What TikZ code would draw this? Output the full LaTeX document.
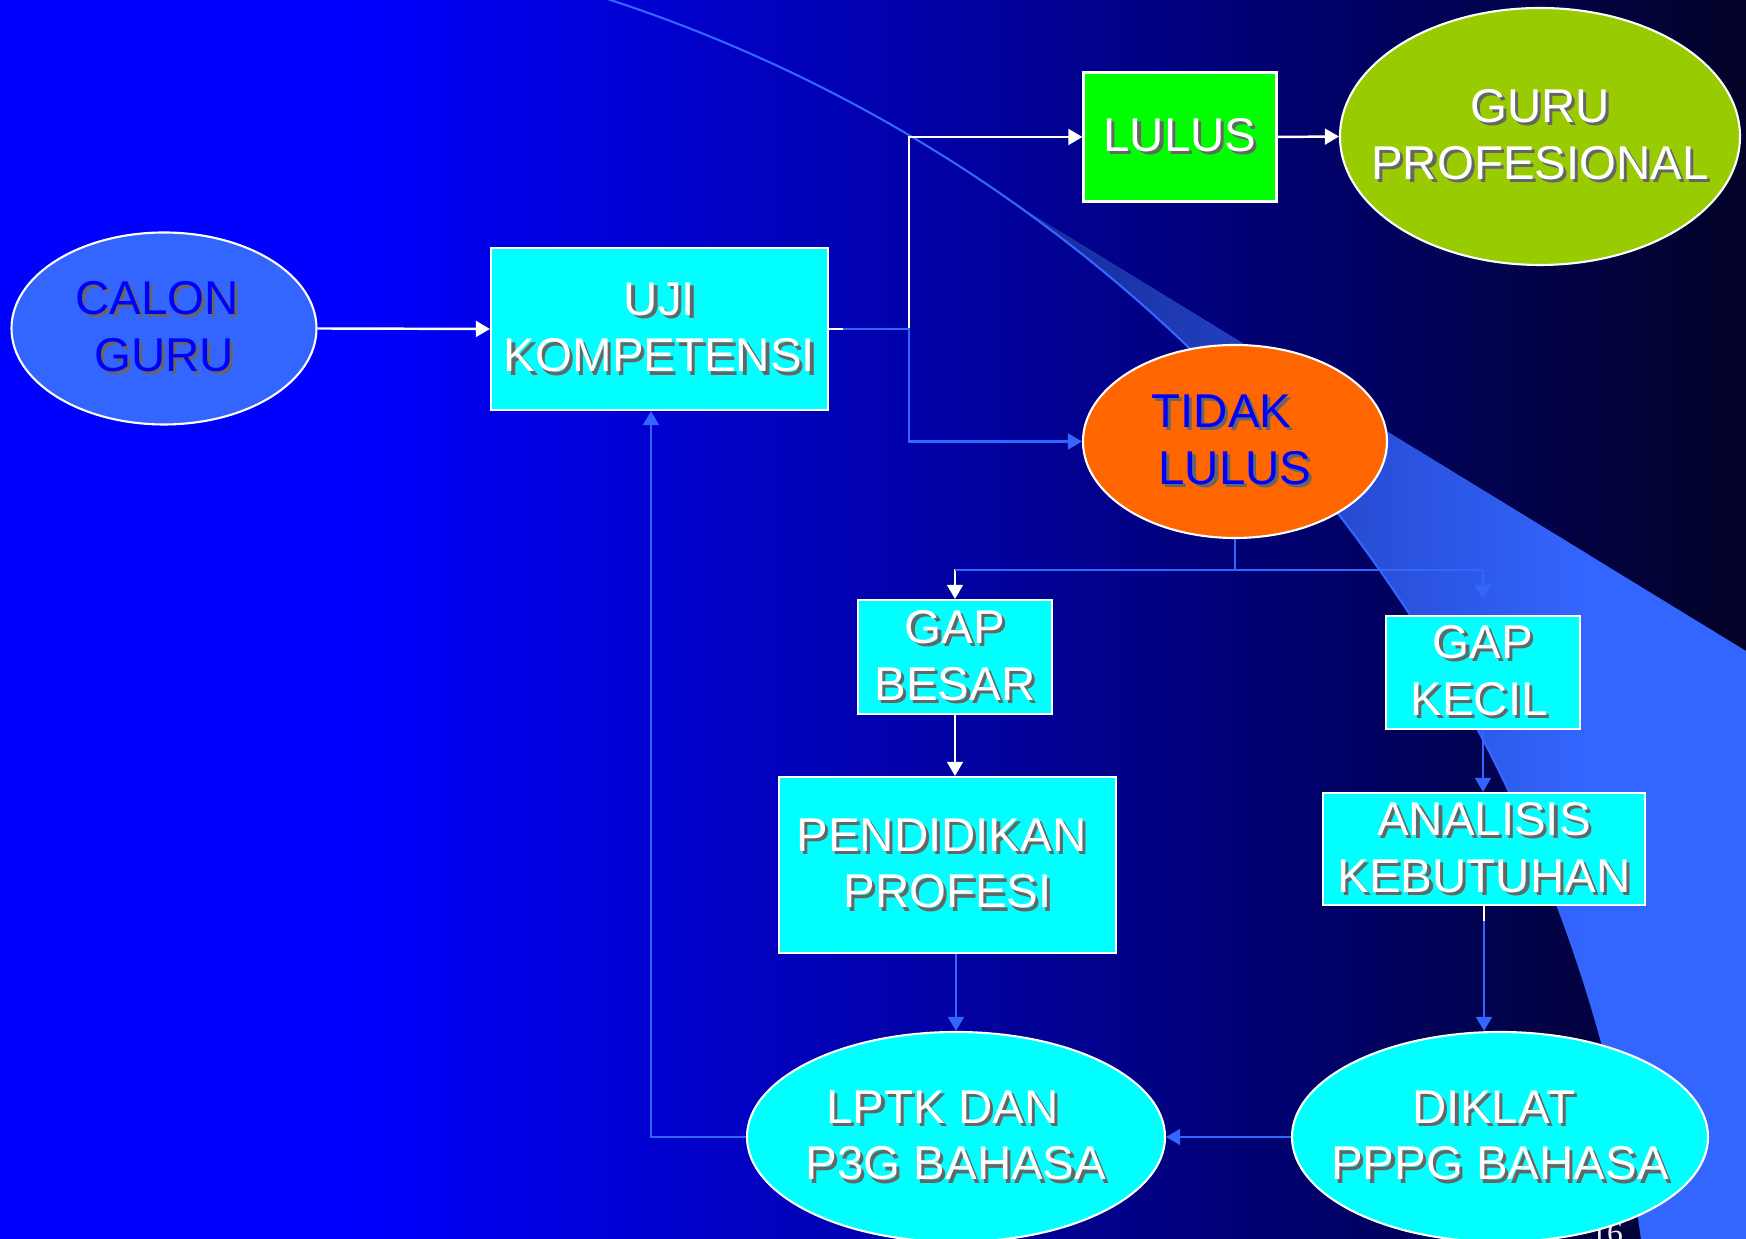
\documentclass[tikz,border=0pt]{standalone}
\usepackage{fontspec}
\setmainfont{Liberation Sans}
\newfontfamily\pagefont{Liberation Serif}
\usetikzlibrary{shapes.geometric,arrows.meta}

\definecolor{bgBlue}{RGB}{0,0,255}
\definecolor{bgMid}{RGB}{0,0,165}
\definecolor{bgDark}{RGB}{2,2,40}
\definecolor{wedgeBlue}{HTML}{3366FF}
\definecolor{wedgeDark}{RGB}{22,40,150}
\definecolor{aquaFill}{HTML}{00FFFF}
\definecolor{limeFill}{HTML}{00FF00}
\definecolor{oliveFill}{HTML}{99CC00}
\definecolor{orangeFill}{HTML}{FF6600}
\definecolor{calonFill}{HTML}{3366FF}
\definecolor{textBlue}{HTML}{0000FF}

% text with a small drop shadow, one line at a time (optional: room kept on the right)
\newcommand{\shtext}[2][0pt]{\makebox[0pt]{\raisebox{-0.9pt}{\hspace*{1.8pt}\color{black!60}#2\hspace*{#1}}}\makebox[0pt]{#2\hspace*{#1}}}

\tikzset{
  label font/.style={font=\fontsize{13.5}{16.2}\selectfont, align=center, inner sep=0pt},
  box/.style={label font, rectangle, draw=white, line width=0.6pt, fill=aquaFill, text=white},
  oval/.style={label font, ellipse, draw=white, line width=0.6pt, fill=aquaFill, text=white},
  wline/.style={draw=white, line width=0.7pt, -{Triangle[length=4pt,width=4.5pt]}},
  bline/.style={draw=wedgeBlue, line width=0.7pt, -{Triangle[length=4pt,width=4.5pt]}}
}

\begin{document}
\begin{tikzpicture}

    \useasboundingbox (0,0) rectangle (17.46,12.39);

    % Background
    \fill[bgBlue] (0,0) rectangle (3.5,12.39);
    \shade[left color=bgBlue, middle color=bgMid, right color=bgDark] (3.5,0) rectangle (17.46,12.39);

    %% Light wedge
    \begin{scope}
        \clip (16.42,0) arc[start angle=7.73, end angle=54.6, radius=15.19] -- (17.46,5.88) -- (17.46,0) -- cycle;
        \fill[wedgeBlue] (10,0) rectangle (17.46,12.39);
        \shade[left color=wedgeDark, right color=wedgeBlue] (10.1,0) rectangle (15.9,12.39);
    \end{scope}

    %% Arc
    \draw[wedgeBlue, line width=0.6pt] (1.368,-2.043) ++(75:15.19) arc[start angle=75, end angle=5, radius=15.19];

    % Nodes
    \node[oval, fill=calonFill, text=textBlue, minimum width=3.05cm, minimum height=1.92cm] (calon) at (1.64,9.105) {\shtext[0.14cm]{CALON}\\\shtext{GURU}};
    \node[box, minimum width=3.37cm, minimum height=1.62cm] (uji) at (6.595,9.10) {\shtext{UJI}\\\shtext{KOMPETENSI}};
    \node[box, fill=limeFill, minimum width=1.93cm, minimum height=1.29cm] (lulus) at (11.80,11.02) {\shtext{LULUS}};
    \node[oval, fill=oliveFill, minimum width=4.0cm, minimum height=2.57cm] (guru) at (15.40,11.025) {\shtext{GURU}\\\shtext{PROFESIONAL}};
    \node[oval, fill=orangeFill, text=textBlue, minimum width=3.04cm, minimum height=1.93cm] (tidak) at (12.35,7.975) {\shtext[0.27cm]{TIDAK}\\\shtext{LULUS}};

    \node[box, minimum width=1.94cm, minimum height=1.14cm] (gapbesar) at (9.55,5.82) {\shtext{GAP}\\\shtext{BESAR}};
    \node[box, minimum width=1.94cm, minimum height=1.13cm] (gapkecil) at (14.83,5.665) {\shtext{GAP}\\\shtext[0.08cm]{KECIL}};
    \node[box, minimum width=3.37cm, minimum height=1.76cm] (pendidikan) at (9.475,3.74) {\shtext[0.12cm]{PENDIDIKAN}\\\shtext{PROFESI}};
    \node[box, minimum width=3.22cm, minimum height=1.12cm] (analisis) at (14.84,3.90) {\shtext{ANALISIS}\\\shtext{KEBUTUHAN}};

    %% Page number, mostly hidden
    \node[font=\pagefont\fontsize{9}{10}\selectfont, text=white!85!gray, anchor=north, inner sep=0pt] (page) at (16.07,0.17) {16};

    \node[oval, minimum width=4.18cm, minimum height=2.10cm] (lptk) at (9.56,1.02) {\shtext[0.27cm]{LPTK DAN}\\\shtext{P3G BAHASA}};
    \node[oval, minimum width=4.16cm, minimum height=2.10cm] (diklat) at (15.00,1.02) {\shtext[0.12cm]{DIKLAT}\\\shtext{PPPG BAHASA}};

    % Connectors
    \coordinate (split) at ([xshift=0.8cm]uji.east);
    \coordinate (fork) at ([yshift=-0.31cm]tidak.south);

    \draw[wline] (calon.east) -- (uji.west);
    \draw[wline] (uji.east) -- (split) |- (lulus.west);
    \draw[bline] ([xshift=4pt]uji.east) -- (split) |- (tidak.west);
    \draw[wline] (lulus.east) -- (guru.west);

    %% Split below TIDAK LULUS
    \draw[wline] (fork) -| (gapbesar.north);
    \draw[bline] (tidak.south) -- (fork) -| ([yshift=0.16cm]gapkecil.north);
    \draw[bline, -] (fork) -- (fork -| gapbesar.north);

    %% Down the two columns
    \draw[wline] (gapbesar.south) -- (gapbesar.south |- pendidikan.north);
    \draw[bline] (lptk.north |- pendidikan.south) -- (lptk.north);
    \draw[bline] (gapkecil.south) -- (gapkecil.south |- analisis.north);
    \draw[wline, -] (analisis.south) -- ++(0,-0.15);
    \draw[bline] ([yshift=-0.15cm]analisis.south) -- (analisis.south |- diklat.north);

    %% Back to the test
    \draw[bline] (diklat.west) -- (lptk.east);
    \draw[bline] (lptk.west) -| ([xshift=-0.085cm]uji.south);

\end{tikzpicture}
\end{document}
